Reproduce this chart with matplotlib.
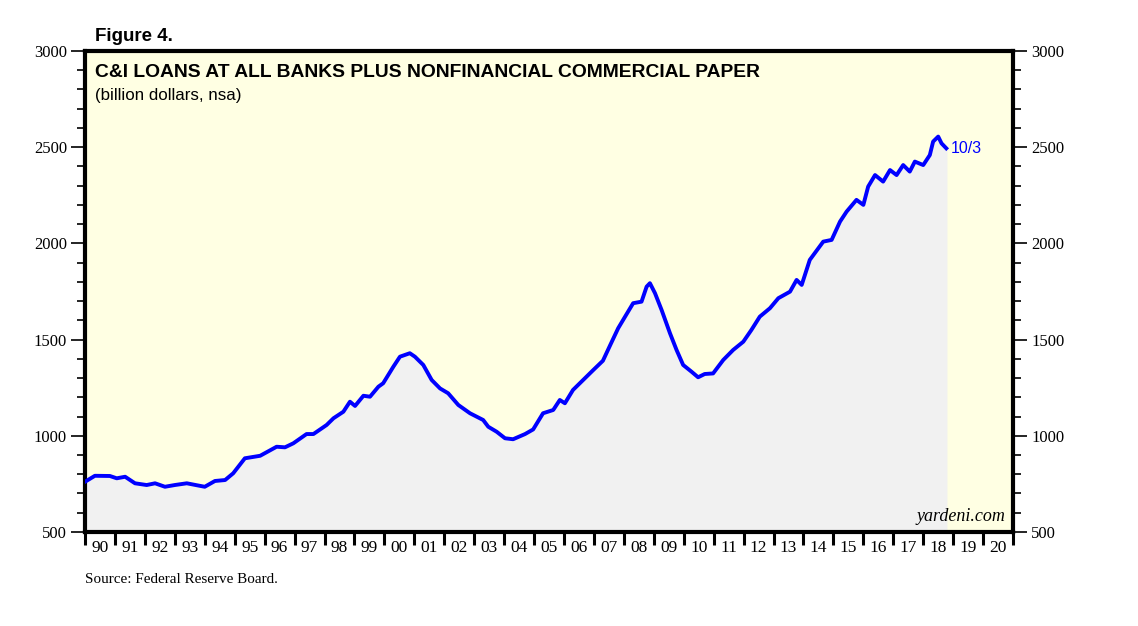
import matplotlib.pyplot as plt
from matplotlib.ticker import MultipleLocator

# weekly C&I loans + nonfinancial CP (billion $)
years = [1990.0, 1990.33, 1990.83, 1991.06, 1991.34, 1991.67, 1992.06, 1992.34, 1992.67,
         1993.0, 1993.4, 1993.73, 1994.0, 1994.34, 1994.68, 1994.95, 1995.34, 1995.85,
         1996.4, 1996.68, 1996.96, 1997.4, 1997.63, 1998.07, 1998.3, 1998.63, 1998.85,
         1999.02, 1999.3, 1999.52, 1999.8, 1999.96, 2000.3, 2000.52, 2000.85, 2001.02,
         2001.3, 2001.58, 2001.86, 2002.13, 2002.47, 2002.86, 2003.3, 2003.47, 2003.75,
         2004.03, 2004.3, 2004.7, 2004.97, 2005.3, 2005.64, 2005.86, 2006.03, 2006.3,
         2006.64, 2006.98, 2007.3, 2007.54, 2007.81, 2008.04, 2008.31, 2008.59, 2008.76,
         2008.87, 2009.04, 2009.26, 2009.54, 2009.76, 2009.98, 2010.26, 2010.48, 2010.7,
         2010.98, 2011.32, 2011.65, 2011.99, 2012.26, 2012.54, 2012.88, 2013.16, 2013.55,
         2013.77, 2013.94, 2014.21, 2014.66, 2014.94, 2015.22, 2015.44, 2015.77, 2016.0,
         2016.16, 2016.39, 2016.66, 2016.89, 2017.11, 2017.33, 2017.55, 2017.72, 2018.0,
         2018.22, 2018.33, 2018.5, 2018.61, 2018.77]
loans = [761, 792, 791, 779, 787, 753, 744, 753, 735,
         744, 753, 743, 735, 765, 770, 805, 883, 896,
         943, 940, 961, 1009, 1009, 1056, 1091, 1125, 1177,
         1155, 1208, 1203, 1255, 1273, 1359, 1411, 1429, 1411,
         1368, 1290, 1246, 1221, 1160, 1117, 1082, 1047, 1021,
         987, 982, 1009, 1033, 1117, 1134, 1186, 1169, 1238,
         1290, 1342, 1390, 1470, 1559, 1619, 1689, 1697, 1775,
         1793, 1741, 1654, 1533, 1446, 1368, 1333, 1304, 1321,
         1324, 1394, 1446, 1489, 1550, 1619, 1663, 1715, 1749,
         1810, 1784, 1914, 2009, 2018, 2113, 2165, 2226, 2200,
         2295, 2355, 2321, 2381, 2355, 2407, 2373, 2425, 2407,
         2459, 2529, 2555, 2520, 2494]
year_labels = ['90', '91', '92', '93', '94', '95', '96', '97', '98', '99', '00',
               '01', '02', '03', '04', '05', '06', '07', '08', '09', '10', '11',
               '12', '13', '14', '15', '16', '17', '18', '19', '20']

serif = 'Liberation Serif'
sans = 'Liberation Sans'

fig = plt.figure(figsize=(11.38, 6.26), dpi=100)
ax = fig.add_axes([0.0747, 0.1502, 0.8155, 0.7684])
ax.set_facecolor('#ffffe3')

ax.fill_between(years, loans, 500, color='#f1f1f1', zorder=1)
ax.plot(years, loans, color='#0000ff', lw=2.8, zorder=3)

ax.set_xlim(1990, 2021)
ax.set_ylim(500, 3000)

# y axis on both sides
ax.yaxis.set_major_locator(MultipleLocator(500))
ax.yaxis.set_minor_locator(MultipleLocator(100))
ax.tick_params(axis='y', which='both', left=True, right=True, labelleft=True,
               labelright=True, direction='out', width=1.2)
ax.tick_params(axis='y', which='major', length=10, labelsize=12, pad=3)
ax.tick_params(axis='y', which='minor', length=6)

# year boundaries as ticks, labels centred between
ax.set_xticks(range(1990, 2022))
ax.set_xticklabels([])
ax.set_xticks([1990.5 + i for i in range(len(year_labels))], minor=True)
ax.set_xticklabels(year_labels, minor=True)
ax.tick_params(axis='x', which='major', direction='out', length=9, width=2.2)
ax.tick_params(axis='x', which='minor', length=0, labelsize=12.5, pad=6)

for lab in ax.get_xticklabels(minor=True) + ax.get_yticklabels():
    lab.set_family(serif)

for s in ax.spines.values():
    s.set_linewidth(3)

fig.text(0.0835, 0.935, 'Figure 4.', family=sans, fontsize=13.5, fontweight='bold')
ax.text(0.011, 0.972, 'C&I LOANS AT ALL BANKS PLUS NONFINANCIAL COMMERCIAL PAPER',
        transform=ax.transAxes, family=sans, fontsize=13.9, fontweight='bold', va='top')
ax.text(0.011, 0.922, '(billion dollars, nsa)', transform=ax.transAxes,
        family=sans, fontsize=12.2, va='top')
ax.text(years[-1] + 0.15, loans[-1], '10/3', color='#0000ff', family=sans,
        fontsize=11.5, va='center')
ax.text(0.992, 0.015, 'yardeni.com', transform=ax.transAxes, family=serif,
        fontsize=13, style='italic', ha='right', va='bottom')
fig.text(0.0747, 0.068, 'Source: Federal Reserve Board.', family=serif, fontsize=10.9)

fig.savefig('out.png', dpi=100)
